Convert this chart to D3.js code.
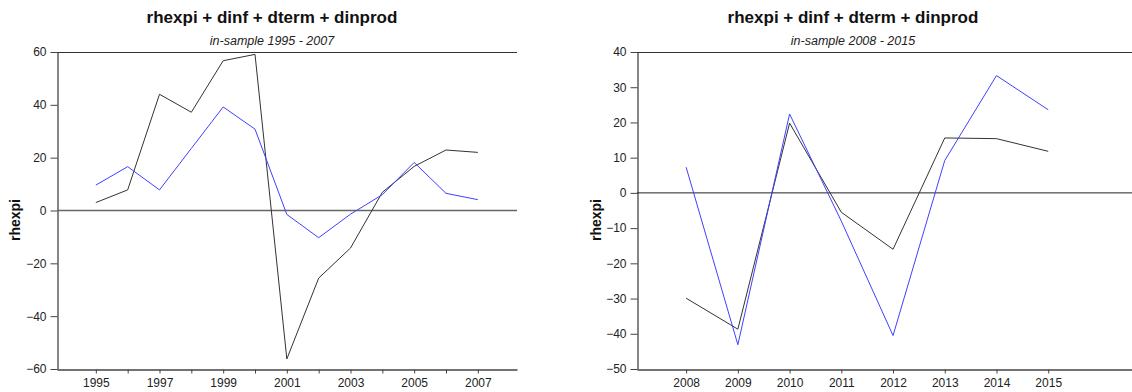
<!DOCTYPE html>
<html>
<head>
<meta charset="utf-8">
<script src="https://cdn.jsdelivr.net/npm/d3@7"></script>
<style>
  body { margin: 0; background: #fff; }
  svg { display: block; font-family: "Liberation Sans", Arial, sans-serif; }
</style>
</head>
<body>
<svg id="chart" width="1132" height="392"></svg>
<script>
// left panel: 1995 - 2007
const yearsA = [1995, 1996, 1997, 1998, 1999, 2000, 2001, 2002, 2003, 2004, 2005, 2006, 2007];
const actualA = [3.0, 7.8, 44.0, 37.2, 56.7, 59.1, -56.2, -25.6, -14.2, 6.9, 16.7, 22.9, 22.0];
const fittedA = [9.6, 16.6, 7.8, 23.5, 39.2, 30.8, -1.5, -10.3, -1.4, 6.0, 18.2, 6.5, 4.1];
const yTicksA = [-60, -40, -20, 0, 20, 40, 60];
const xLabelsA = [1995, 1997, 1999, 2001, 2003, 2005, 2007];

// right panel: 2008 - 2015
const yearsB = [2008, 2009, 2010, 2011, 2012, 2013, 2014, 2015];
const actualB = [-29.9, -38.7, 19.8, -5.5, -16.0, 15.6, 15.4, 11.8];
const fittedB = [7.3, -43.1, 22.4, -8.0, -40.5, 9.2, 33.3, 23.6];
const yTicksB = [-50, -40, -30, -20, -10, 0, 10, 20, 30, 40];
const xLabelsB = [2008, 2009, 2010, 2011, 2012, 2013, 2014, 2015];

const svg = d3.select("#chart");

function drawPanel(cfg) {
  const g = svg.append("g");
  const x = d3.scaleLinear().domain(cfg.xDomain).range([cfg.left, cfg.right]);
  const y = d3.scaleLinear().domain(cfg.yDomain).range([cfg.bottom, cfg.top]);

  // titles
  g.append("text")
    .attr("x", cfg.titleX).attr("y", 23)
    .attr("text-anchor", "middle")
    .style("font-size", "17px").style("font-weight", "bold")
    .attr("fill", "#111")
    .text("rhexpi + dinf + dterm + dinprod");
  g.append("text")
    .attr("x", cfg.titleX).attr("y", 45)
    .attr("text-anchor", "middle")
    .style("font-size", "12.5px").style("font-style", "italic")
    .attr("fill", "#222")
    .text(cfg.subtitle);

  // frame: top line
  g.append("line")
    .attr("x1", cfg.left).attr("x2", cfg.right)
    .attr("y1", cfg.top + 0.5).attr("y2", cfg.top + 0.5)
    .attr("stroke", "#333").attr("stroke-width", 1);

  // y axis
  const yAxis = d3.axisLeft(y).tickValues(cfg.yTicks).tickSize(7).tickSizeOuter(0).tickPadding(4);
  const ya = g.append("g").attr("transform", `translate(${cfg.left + 0.5},0)`).call(yAxis);
  ya.select(".domain").attr("stroke", "#444").attr("stroke-width", 1.3);
  ya.selectAll(".tick line").attr("stroke", "#444");
  ya.selectAll("text").style("font-size", "12px").attr("fill", "#222");

  // x axis: tick every year, labels only on chosen years
  const xAxis = d3.axisBottom(x).tickValues(cfg.years).tickSize(4).tickSizeOuter(0).tickPadding(5)
    .tickFormat(d => cfg.xLabels.includes(d) ? String(d) : "");
  const xa = g.append("g").attr("transform", `translate(0,${cfg.bottom + 0.5})`).call(xAxis);
  xa.select(".domain").attr("stroke", "#444").attr("stroke-width", 1.3);
  xa.selectAll(".tick line").attr("stroke", "#444");
  xa.selectAll("text").style("font-size", "12px").attr("fill", "#222");

  // zero line
  g.append("line")
    .attr("x1", cfg.left).attr("x2", cfg.right)
    .attr("y1", y(0)).attr("y2", y(0))
    .attr("stroke", cfg.zeroColor).attr("stroke-width", cfg.zeroWidth);

  // y label
  g.append("text")
    .attr("transform", `translate(${cfg.ylabelX},${cfg.ylabelY}) rotate(-90)`)
    .attr("text-anchor", "middle")
    .style("font-size", "14px").style("font-weight", "bold")
    .attr("fill", "#111")
    .text("rhexpi");

  const line = d3.line().x(d => x(d[0])).y(d => y(d[1]));

  g.append("path")
    .datum(cfg.years.map((yr, i) => [yr, cfg.actual[i]]))
    .attr("d", line)
    .attr("fill", "none").attr("stroke", "#333").attr("stroke-width", 1);

  g.append("path")
    .datum(cfg.years.map((yr, i) => [yr, cfg.fitted[i]]))
    .attr("d", line)
    .attr("fill", "none").attr("stroke", "#4040ff").attr("stroke-width", 1);
}

drawPanel({
  years: yearsA, actual: actualA, fitted: fittedA,
  yTicks: yTicksA, xLabels: xLabelsA,
  xDomain: [1993.78, 2008.23], yDomain: [-60, 60],
  left: 57, right: 517, top: 52, bottom: 369,
  titleX: 272, subtitle: "in-sample 1995 - 2007",
  ylabelX: 20, ylabelY: 220,
  zeroColor: "#666", zeroWidth: 1.4
});

drawPanel({
  years: yearsB, actual: actualB, fitted: fittedB,
  yTicks: yTicksB, xLabels: xLabelsB,
  xDomain: [2007.05, 2016.62], yDomain: [-50, 40],
  left: 637, right: 1132, top: 52, bottom: 369,
  titleX: 853, subtitle: "in-sample 2008 - 2015",
  ylabelX: 601, ylabelY: 220,
  zeroColor: "#222", zeroWidth: 1
});
</script>
</body>
</html>
